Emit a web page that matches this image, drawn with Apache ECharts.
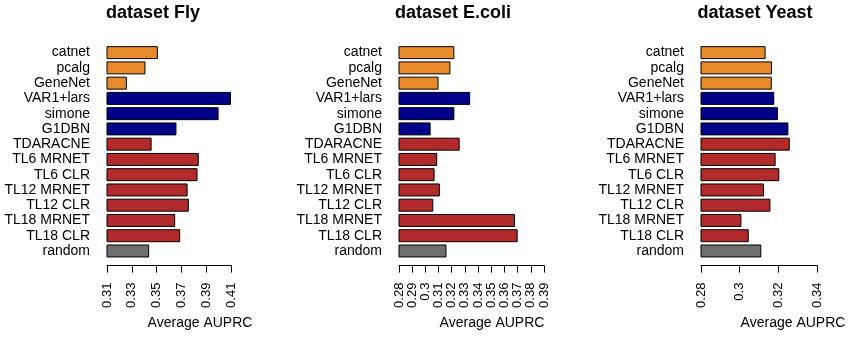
<!DOCTYPE html>
<html>
<head>
<meta charset="utf-8">
<script src="https://cdn.jsdelivr.net/npm/echarts@6/dist/echarts.min.js"></script>
<style>
  html, body { margin: 0; padding: 0; background: #fff; }
  #main { width: 850px; height: 338px; }
</style>
</head>
<body>
<div id="main"></div>
<script>
var categories = ['catnet', 'pcalg', 'GeneNet', 'VAR1+lars', 'simone', 'G1DBN', 'TDARACNE',
  'TL6 MRNET', 'TL6 CLR', 'TL12 MRNET', 'TL12 CLR', 'TL18 MRNET', 'TL18 CLR', 'random'];
var groups = ['static', 'static', 'static', 'dynamic', 'dynamic', 'dynamic', 'tl',
  'tl', 'tl', 'tl', 'tl', 'tl', 'tl', 'random'];

var flyValues   = [0.351, 0.341, 0.326, 0.410, 0.400, 0.366, 0.346, 0.384, 0.383, 0.375, 0.376, 0.365, 0.369, 0.344];
var ecoliValues = [0.322, 0.319, 0.310, 0.334, 0.322, 0.304, 0.326, 0.309, 0.307, 0.311, 0.306, 0.368, 0.370, 0.316];
var yeastValues = [0.3134, 0.3167, 0.3166, 0.3179, 0.3198, 0.3252, 0.3259, 0.3186, 0.3205, 0.3126, 0.3159, 0.3009, 0.3047, 0.3112];

var flyTicks   = [0.31, 0.33, 0.35, 0.37, 0.39, 0.41];
var ecoliTicks = [0.28, 0.29, 0.3, 0.31, 0.32, 0.33, 0.34, 0.35, 0.36, 0.37, 0.38, 0.39];
var yeastTicks = [0.28, 0.3, 0.32, 0.34];

var titles = ['dataset Fly', 'dataset E.coli', 'dataset Yeast'];
var xLabel = 'Average AUPRC';

var groupColors = { static: '#E8892A', dynamic: '#000088', tl: '#B22A2A', random: '#6E6E6E' };
var font = 'Liberation Sans, Arial, Helvetica, sans-serif';

// panel geometry (pixels)
var panels = [
  { values: flyValues,   ticks: flyTicks,   left: 107, width: 124, titleX: 153, nameX: 200 },
  { values: ecoliValues, ticks: ecoliTicks, left: 399, width: 145, titleX: 453, nameX: 492 },
  { values: yeastValues, ticks: yeastTicks, left: 701, width: 116, titleX: 755, nameX: 793 }
];

var grids = [], xAxes = [], yAxes = [], series = [], graphics = [];

panels.forEach(function (p, i) {
  grids.push({ left: p.left, width: p.width, top: 45, height: 213.6 });
  xAxes.push({
    type: 'value', gridIndex: i,
    min: p.ticks[0], max: p.ticks[p.ticks.length - 1],
    offset: 7,
    axisLine: { show: true, lineStyle: { color: '#000', width: 1 } },
    axisTick: { show: true, length: 7, lineStyle: { color: '#000' }, customValues: p.ticks },
    axisLabel: { rotate: 90, margin: 17, fontSize: 13, color: '#000', fontFamily: font,
      customValues: p.ticks, hideOverlap: false, showMinLabel: true, showMaxLabel: true },
    splitLine: { show: false }
  });
  yAxes.push({
    type: 'category', gridIndex: i, data: categories, inverse: true,
    axisLine: { show: false }, axisTick: { show: false },
    axisLabel: { interval: 0, margin: 17, fontSize: 14, color: '#000', fontFamily: font }
  });
  series.push({
    type: 'bar', xAxisIndex: i, yAxisIndex: i,
    barCategoryGap: '15%',
    data: p.values.map(function (v, k) {
      return { value: v, itemStyle: { color: groupColors[groups[k]] } };
    }),
    itemStyle: { borderColor: '#000', borderWidth: 1 },
    silent: true
  });
  graphics.push({
    type: 'text', x: p.titleX, y: 13,
    style: { text: titles[i], font: 'bold 18px ' + font, fill: '#000',
      textAlign: 'center', textVerticalAlign: 'middle' }
  });
  graphics.push({
    type: 'text', x: p.nameX, y: 323,
    style: { text: xLabel, font: '14px ' + font, fill: '#000',
      textAlign: 'center', textVerticalAlign: 'middle' }
  });
});

var chart = echarts.init(document.getElementById('main'));
chart.setOption({
  animation: false,
  backgroundColor: '#fff',
  grid: grids,
  xAxis: xAxes,
  yAxis: yAxes,
  series: series,
  graphic: graphics
});
</script>
</body>
</html>
